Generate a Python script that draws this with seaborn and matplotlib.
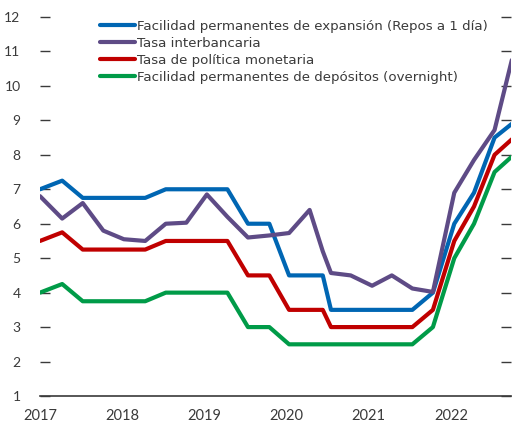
import matplotlib
matplotlib.use("Agg")
import matplotlib.pyplot as plt
import seaborn as sns
import pandas as pd

# fechas (fracción de año) y tasas
fechas = [2017.00, 2017.27, 2017.52, 2017.77, 2018.02, 2018.28, 2018.53, 2018.78,
          2019.03, 2019.28, 2019.53, 2019.79, 2020.03, 2020.28, 2020.44, 2020.54,
          2020.78, 2021.04, 2021.28, 2021.53, 2021.78, 2022.04, 2022.28, 2022.53,
          2022.74]

expansion = [7.0, 7.25, 6.75, 6.75, 6.75, 6.75, 7.0, 7.0,
             7.0, 7.0, 6.0, 6.0, 4.5, 4.5, 4.5, 3.5,
             3.5, 3.5, 3.5, 3.5, 4.0, 6.0, 6.9, 8.5,
             8.9]
interbancaria = [6.8, 6.15, 6.6, 5.8, 5.55, 5.5, 6.0, 6.03,
                 6.85, 6.2, 5.6, 5.66, 5.73, 6.4, 5.2, 4.57,
                 4.5, 4.2, 4.5, 4.12, 4.02, 6.9, 7.85, 8.72,
                 10.75]
politica = [5.5, 5.75, 5.25, 5.25, 5.25, 5.25, 5.5, 5.5,
            5.5, 5.5, 4.5, 4.5, 3.5, 3.5, 3.5, 3.0,
            3.0, 3.0, 3.0, 3.0, 3.5, 5.5, 6.5, 8.0,
            8.45]
depositos = [4.0, 4.25, 3.75, 3.75, 3.75, 3.75, 4.0, 4.0,
             4.0, 4.0, 3.0, 3.0, 2.5, 2.5, 2.5, 2.5,
             2.5, 2.5, 2.5, 2.5, 3.0, 5.0, 6.0, 7.5,
             7.95]

series = {
    "Facilidad permanentes de expansión (Repos a 1 día)": expansion,
    "Tasa interbancaria": interbancaria,
    "Tasa de política monetaria": politica,
    "Facilidad permanentes de depósitos (overnight)": depositos,
}
colores = ["#0066B3", "#5E4B86", "#C00000", "#009B48"]

df = pd.concat(
    [pd.DataFrame({"fecha": fechas, "tasa": v, "serie": k}) for k, v in series.items()],
    ignore_index=True,
)

sns.set_style("white")
plt.rcParams["font.family"] = ["Lato", "DejaVu Sans"]
gris = "#3a3a3a"

fig = plt.figure(figsize=(5.12, 4.21), dpi=100)
ax = fig.add_axes([40 / 512, 25 / 421, 471 / 512, 379 / 421])

sns.lineplot(data=df, x="fecha", y="tasa", hue="serie", palette=colores,
             linewidth=3, sort=False, ax=ax)

ax.set_xlim(2017, 2022.73)
ax.set_ylim(1, 12)
ax.set_xticks(range(2017, 2023))
ax.set_yticks(range(1, 13))
ax.set_xlabel("")
ax.set_ylabel("")

for s in ["top", "left", "right"]:
    ax.spines[s].set_visible(False)
ax.spines["bottom"].set_color(gris)
ax.spines["bottom"].set_linewidth(1.2)

ax.tick_params(axis="y", which="both", direction="in", length=7, width=1,
               color=gris, labelcolor=gris, labelsize=10, pad=14,
               left=True, right=True, labelright=False)
ax.tick_params(axis="x", direction="out", length=6, width=1.2,
               color=gris, labelcolor=gris, labelsize=10.5, pad=3)

leg = ax.legend(loc="upper left", bbox_to_anchor=(100 / 512, 1 - 20 / 421),
                bbox_transform=fig.transFigure, frameon=False,
                prop={"family": "DejaVu Sans", "size": 9.6},
                handlelength=2.6, handletextpad=0.2, labelspacing=0.3,
                borderpad=0, borderaxespad=0)
for t in leg.get_texts():
    t.set_color(gris)

plt.savefig("out.png", dpi=100)
